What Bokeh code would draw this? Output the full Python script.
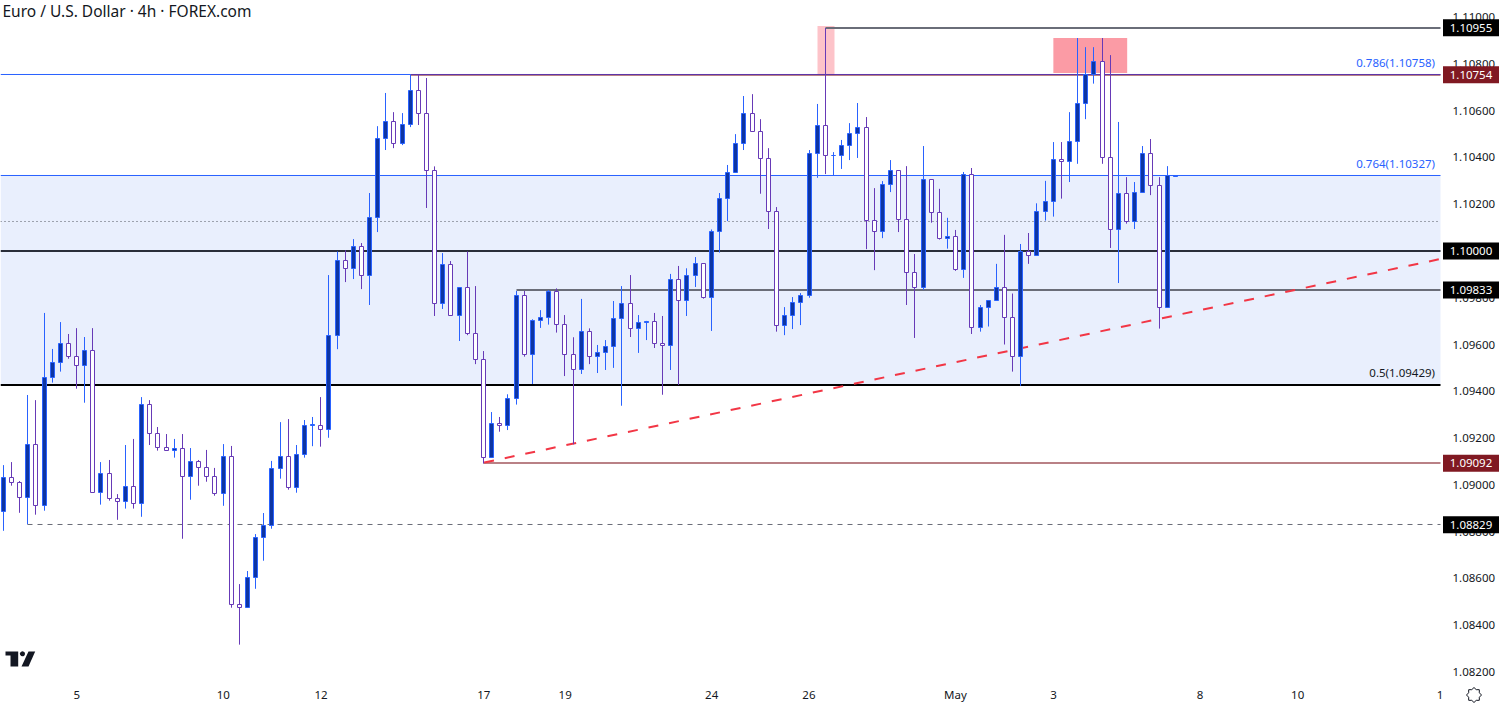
from math import cos, sin, pi
import numpy as np
from bokeh.embed import file_html
from bokeh.resources import INLINE
from bokeh.plotting import figure
from bokeh.models import Range1d, FixedTicker, NumeralTickFormatter, ColumnDataSource
from bokeh.core.properties import value

# prices in points (1e-5)
highs = [109084,109097,109016,109384,109362,109735,109581,109696,109645,109670,
109632,109670,109097,109106,108960,109170,109196,109375,109362,109247,
109217,109196,109217,109157,109106,109149,109072,109174,109166,108575,
108631,108789,108879,109102,109268,109281,109170,109277,109290,109375,
109897,109998,110003,110051,110034,110248,110534,110676,110594,110590,
110755,110755,110740,110362,109991,109957,109844,109998,109850,109572,
109311,109290,109387,109829,109829,109708,109747,109833,109840,109726,
109631,109795,109669,109598,109619,109786,109850,109897,109726,109701,
109735,109722,109902,109936,109926,109974,109947,110092,110248,110368,
110500,110663,110671,110564,110440,110188,109760,109803,109820,110432,
110629,110954,110423,110475,110547,110633,110573,110269,110299,110389,
110345,110363,109987,110449,110306,110266,110142,110090,110338,110355,
109769,109789,109945,110069,109818,110030,110077,110204,110300,110466,
110466,110594,110911,110872,110872,110911,110838,110552,110316,110295,
110449,110479,110316,110363,110323]
lows = [108803,108996,108880,108831,108872,108889,109437,109484,109539,109411,
109351,108967,108915,108932,108850,108898,108898,108863,109170,109146,
109147,109116,108769,108936,108996,109013,108953,108910,108474,108316,
108474,108555,108675,108812,109026,108979,108966,109116,109165,109163,
109201,109580,109867,109880,109837,109769,110081,110432,110440,110453,
110530,110539,110184,109722,109752,109723,109615,109640,109516,109091,
109117,109227,109234,109343,109548,109431,109671,109685,109651,109465,
109173,109474,109516,109478,109491,109500,109338,109632,109564,109619,
109585,109385,109491,109427,109722,109846,109796,109658,109993,110128,
110335,110432,110512,110245,110094,109655,109640,109666,109683,109800,
110313,110329,110323,110351,110389,110398,110008,109918,110055,110252,
110081,109769,109628,109833,110121,110049,110010,109915,109885,109645,
109655,109677,109789,109600,109484,109423,109945,109982,110130,110147,
110224,110295,110373,110564,110716,110373,110013,109863,110117,110094,
110251,110239,109668,109759,110318]
opens = [108886,109032,109010,108946,109173,108912,109459,109524,109605,109549,
109511,109575,108967,109049,108942,108929,108993,108920,109344,109220,
109160,109147,109156,109036,109100,109074,109036,108963,109121,108488,
108474,108604,108775,108826,109070,109122,108989,109130,109254,109254,
109237,109639,109960,109926,110020,109896,110144,110482,110554,110460,
110542,110687,110589,110345,109776,109943,109723,109844,109647,109536,
109117,109262,109254,109370,109811,109557,109702,109716,109827,109686,
109558,109493,109656,109548,109567,109591,109712,109776,109668,109695,
109699,109604,109595,109879,109788,109896,109947,109802,110084,110225,
110335,110460,110589,110512,110396,110169,109682,109725,109780,109810,
110418,110537,110408,110409,110450,110503,110529,110131,110084,110285,
110345,110135,109909,109844,110306,110166,110053,110063,109922,110328,
109674,109759,109789,109845,109717,109548,109999,109982,110170,110212,
110392,110383,110469,110632,110754,110811,110400,110092,110246,110127,
110251,110418,110281,109759,110320]
closes = [109032,109010,108946,109173,108912,109459,109524,109605,109549,109511,
109575,108967,109049,108942,108929,108993,108920,109344,109220,109160,
109147,109156,109036,109100,109074,109036,108963,109121,108488,108475,
108604,108775,108826,109070,109122,108989,109130,109254,109256,109237,
109639,109960,109926,110020,109896,110144,110482,110554,110460,110542,
110687,110589,110345,109776,109943,109723,109844,109646,109536,109117,
109262,109254,109370,109811,109557,109704,109716,109827,109686,109557,
109493,109656,109548,109567,109592,109712,109776,109668,109695,109699,
109604,109595,109879,109788,109896,109947,109802,110084,110224,110335,
110460,110589,110512,110396,110169,109682,109725,109780,109810,110418,
110537,110409,110409,110450,110503,110529,110131,110084,110285,110345,
110135,109909,109844,110306,110165,110053,110063,109921,110328,109674,
109759,109789,109845,109717,109548,109999,109982,110170,110213,110392,
110383,110469,110632,110754,110811,110400,110092,110246,110127,110251,
110418,110281,109759,110321,110321]

x_tick_bars = [8.95, 26.95, 38.95, 58.95, 68.95, 86.95, 98.9, 116.9, 128.95, 146.95, 158.95, 176.45]
x_tick_labels = ["5", "10", "12", "17", "19", "24", "26", "May", "3", "8", "10", "1"]
y_ticks = [1.082, 1.084, 1.086, 1.088, 1.090, 1.092, 1.094, 1.096, 1.098, 1.100,
           1.102, 1.104, 1.106, 1.108, 1.110]

fib_786 = 1.107551
fib_764 = 1.103230
fib_500 = 1.094268
mid_dotted = 1.101262
round_level = 1.100000
support_level = 1.098332
swing_high = 1.109540
resistance = 1.107529
swing_low = 1.090931
old_low = 1.088300
fib_levels = [(fib_786, "0.786(1.10758)", "#2962ff"), (fib_764, "0.764(1.10327)", "#2962ff"),
              (fib_500, "0.5(1.09429)", "#131722")]
tags = [(1.10955, "#000000"), (1.10754, "#801922"), (1.10000, "#000000"),
        (1.09833, "#000000"), (1.09092, "#801922"), (1.08829, "#000000")]
trend_bars = [59, 176.5]
trend_prices = [1.09095, 1.09966]
box_a = (99.95, 102.04, 1.10963, 1.10754)
box_b = (128.93, 138.0, 1.10911, 1.10761)

BAR_PX = 8.139
X0_PX = 3.5
W, H = 1500, 705
PANE_W, PANE_H = 1440, 680
PX_PER_PRICE = 23376.0
Y_TOP = 1.1 + 250.5 / PX_PER_PRICE
X_START = -X0_PX / BAR_PX


def dx(px):
    return (px - X0_PX) / BAR_PX


def dy(py):
    return Y_TOP - py / PX_PER_PRICE


def snap_y(price):
    return Y_TOP - np.round((Y_TOP - price) * PX_PER_PRICE) / PX_PER_PRICE


X_END = dx(PANE_W)
FONT = "Noto Sans"
p = figure(width=W, height=H, output_backend="svg", toolbar_location=None,
           x_range=Range1d(X_START, dx(W)), y_range=Range1d(dy(H), Y_TOP),
           y_axis_location="right", min_border=0, margin=(0, 0, 0, 0),
           background_fill_color="white", border_fill_color="white", outline_line_color=None)
p.grid.visible = False

for ax in (p.xaxis[0], p.yaxis[0]):
    ax.axis_line_color = None
    ax.major_tick_line_color = None
    ax.minor_tick_line_color = None
    ax.major_tick_in = 0
    ax.major_tick_out = 0
    ax.major_label_text_font = FONT
    ax.major_label_text_font_size = "11.5px"
    ax.major_label_text_color = "#131722"
p.yaxis[0].fixed_location = X_END
p.xaxis[0].fixed_location = dy(PANE_H)
p.yaxis[0].ticker = FixedTicker(ticks=y_ticks)
p.yaxis[0].formatter = NumeralTickFormatter(format="0.00000")
p.yaxis[0].major_label_standoff = 12
p.xaxis[0].ticker = FixedTicker(ticks=x_tick_bars)
p.xaxis[0].major_label_overrides = dict(zip(x_tick_bars, x_tick_labels))
p.xaxis[0].major_label_standoff = 6

# fib zone and pink boxes
p.quad(left=X_START, right=X_END, top=fib_764, bottom=fib_500, fill_color="#e9effd", line_color=None)
p.quad(left=box_a[0], right=box_a[1], top=box_a[2], bottom=box_a[3], fill_color="#fdc3c9", line_color=None)
p.quad(left=box_b[0], right=box_b[1], top=box_b[2], bottom=box_b[3], fill_color="#fb9ba5", line_color=None)


def hline(x0, price, color, width=1, dash="solid", alpha=1.0, x1=None):
    p.line([x0, X_END if x1 is None else x1], [price, price], line_color=color, line_width=width,
           line_dash=dash, line_alpha=alpha)


hline(X_START, mid_dotted, "#50535e", 1, "1 3")
hline(X_START, round_level, "#2a2e39", 2)
hline(X_START, fib_500, "#000000", 2)
hline(X_START, fib_764, "#2962ff", 1)
hline(dx(410), resistance, "#801922", 2, alpha=0.55)
hline(X_START, fib_786, "#2962ff", 1, x1=dx(410))
hline(dx(410), fib_786, "#5e35a8", 1)
hline(dx(825), swing_high, "#6a6d78", 2)
hline(dx(516), support_level, "#6a6d78", 2)
hline(dx(483), swing_low, "#801922", 2, alpha=0.55)
hline(dx(27), old_low, "#6a6d78", 1, "5 5")

p.line(trend_bars, trend_prices, line_color="#f23645", line_width=2, line_dash="10 11")

# candles, with each bar's centre on a pixel column as the original chart has them
o = np.array(opens) / 1e5
c = np.array(closes) / 1e5
hi = np.array(highs) / 1e5
lo = np.array(lows) / 1e5
idx = np.arange(len(o))
bar_x = dx(np.floor(3.32 + BAR_PX * idx))
up = c >= o
src = ColumnDataSource(dict(
    x=bar_x, hi=hi, lo=lo, top=snap_y(np.maximum(o, c)), bot=snap_y(np.minimum(o, c)),
    edge=["#2962ff" if u else "#673ab7" for u in up],
    fill=["#0d35a3" if u else "#ffffff" for u in up],
))
p.segment(x0="x", x1="x", y0="lo", y1="hi", line_color="edge", line_width=1, source=src)
p.vbar(x="x", top="top", bottom="bot", width=4 / BAR_PX, fill_color="fill", line_color="edge",
       line_width=1, source=src)

# fib labels
for price, text, color in fib_levels:
    p.text([dx(1434.5)], [price], text=[text], text_color=color, text_align="right",
           text_baseline="middle", text_font=value(FONT), text_font_size="11.5px", y_offset=-12)

# price tags drawn over the axis labels
for price, color in tags:
    p.quad(left=dx(1442.5), right=dx(1498.5), top=price + 8.5 / PX_PER_PRICE, bottom=price - 8.5 / PX_PER_PRICE,
           fill_color=color, line_color=None, level="overlay")
    p.text([dx(1470.5)], [price], text=[f"{price:.5f}"], text_color="white", text_align="center",
           text_baseline="middle", text_font=value(FONT), text_font_size="11.5px", level="overlay")

# title
p.text([dx(2)], [dy(10.5)], text=["Euro / U.S. Dollar · 4h · FOREX.com"], text_color="#131722",
       text_baseline="middle", text_align="left", text_font=value(FONT), text_font_size="15.5px")

# TradingView mark
logo = "#131722"
p.patch([dx(v) for v in (5, 17.7, 17.7, 10, 10, 5)], [dy(v) for v in (651, 651, 666, 666, 655, 655)],
        fill_color=logo, line_color=None)
p.patch([dx(v) for v in (28, 34.7, 28, 21)], [dy(v) for v in (651, 651, 666, 666)],
        fill_color=logo, line_color=None)
p.patch([dx(22 + 2.5 * cos(t)) for t in np.linspace(0, 2 * pi, 16)],
        [dy(653.3 + 2.5 * sin(t)) for t in np.linspace(0, 2 * pi, 16)], fill_color=logo, line_color=None)

# settings icon
n = 16
xs = [dx(1473.5 + (7.5 if k % 2 == 0 else 5.8) * cos(k * 2 * pi / n)) for k in range(n)]
ys = [dy(694.5 + (7.5 if k % 2 == 0 else 5.8) * sin(k * 2 * pi / n)) for k in range(n)]
p.patch(xs + xs[:1], ys + ys[:1], fill_alpha=0, line_color="#131722", line_width=1)

open("out.html", "w").write(file_html(p, INLINE))
